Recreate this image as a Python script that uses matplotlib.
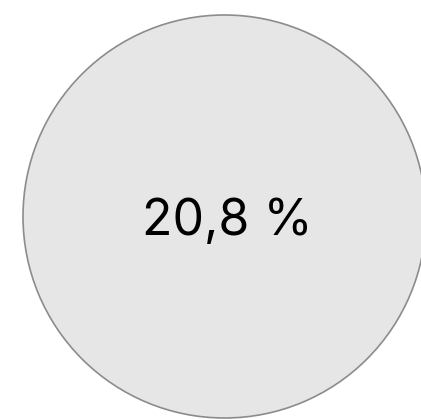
import matplotlib
matplotlib.use("Agg")
import matplotlib.pyplot as plt
from matplotlib.patches import Circle

# data
value = 20.8
label = f"{value:.1f}".replace(".", ",") + " %"

W, H = 421, 419
fig = plt.figure(figsize=(W / 100, H / 100), dpi=100)
ax = fig.add_axes([0, 0, 1, 1])
ax.set_xlim(0, W)
ax.set_ylim(H, 0)
ax.set_aspect("equal")
ax.axis("off")

# big bubble
ax.add_patch(Circle((224.5, 216.5), 201.5, facecolor="#e6e6e6",
                    edgecolor="#8c8c8c", linewidth=1.2))
ax.text(227, 221, label, ha="center", va="center", fontsize=36,
        family=["Inter", "DejaVu Sans"], color="black")

fig.savefig("out.png", dpi=100)
